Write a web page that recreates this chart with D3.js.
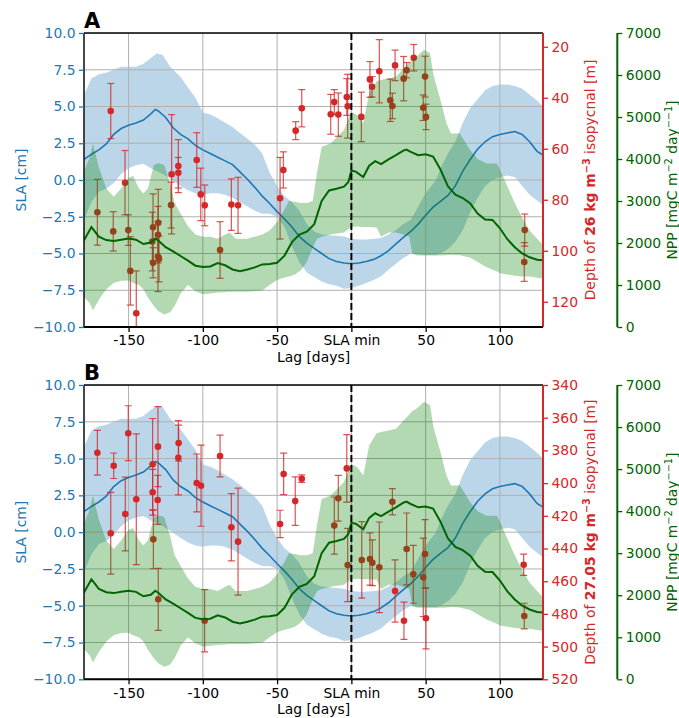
<!DOCTYPE html>
<html><head><meta charset="utf-8">
<script src="https://cdn.jsdelivr.net/npm/d3@7"></script>
<style>body{margin:0;background:#fff} text{font-family:"DejaVu Sans",sans-serif}</style>
</head><body>
<svg id="chart" width="679" height="718"></svg>
<script>
// ---------- data ----------
const lagTicks = [-150, -100, -50, 0, 50, 100];
const lagTickLabels = ["-150", "-100", "-50", "SLA min", "50", "100"];
const slaTicks = [10, 7.5, 5, 2.5, 0, -2.5, -5, -7.5, -10];
const nppTicks = [0, 1000, 2000, 3000, 4000, 5000, 6000, 7000];
const depthTicksA = [20, 40, 60, 80, 100, 120];
const depthTicksB = [340, 360, 380, 400, 420, 440, 460, 480, 500, 520];

// SLA composite mean [lag, cm]
const slaMean = [[-180,1.4],[-175,1.75],[-170,2.05],[-165,2.45],[-160,3.1],[-155,3.5],[-150,3.72],[-145,3.88],[-140,4.08],[-135,4.5],[-132,4.8],[-130,4.7],[-125,4.25],[-120,3.55],[-115,3.1],[-110,2.8],[-105,2.35],[-100,2.05],[-95,1.8],[-90,1.55],[-85,1.3],[-80,1.05],[-75,0.55],[-70,0.05],[-65,-0.5],[-60,-1.1],[-55,-1.6],[-50,-2.15],[-45,-2.65],[-40,-3.2],[-35,-3.85],[-30,-4.3],[-25,-4.65],[-20,-5.0],[-15,-5.35],[-10,-5.55],[-5,-5.65],[0,-5.7],[5,-5.65],[10,-5.55],[15,-5.4],[20,-5.15],[25,-4.8],[30,-4.35],[35,-3.9],[40,-3.5],[45,-3.0],[50,-2.4],[55,-1.85],[60,-1.45],[65,-1.05],[70,-0.4],[75,0.6],[80,1.4],[85,2.1],[90,2.6],[95,2.95],[100,3.1],[105,3.2],[110,3.3],[115,3.1],[120,2.6],[125,1.95],[129,1.7]];
// SLA spread [lag, lower, upper]
const slaBand = [[-180,-2.7,5.8],[-175,-1.5,6.9],[-170,-0.8,7.2],[-165,-0.6,7.3],[-160,-0.2,7.5],[-155,0.4,7.7],[-150,0.8,7.7],[-145,1.0,7.7],[-140,1.1,7.9],[-135,0.8,8.3],[-131,0.6,8.6],[-127,0.4,8.5],[-122,0.1,7.7],[-115,-0.4,7.0],[-110,-0.7,6.3],[-105,-0.9,5.6],[-100,-1.0,4.6],[-95,-0.9,4.45],[-90,-0.9,4.2],[-85,-1.0,3.9],[-80,-1.2,3.6],[-75,-1.5,3.2],[-70,-1.8,2.8],[-65,-2.1,2.4],[-60,-2.3,1.8],[-55,-2.3,0.5],[-50,-2.5,-0.4],[-45,-3.2,-1.1],[-40,-4.5,-1.5],[-35,-5.6,-2.1],[-30,-6.3,-3.0],[-25,-6.6,-3.5],[-20,-6.9,-3.7],[-15,-7.1,-3.75],[-10,-7.2,-3.8],[-5,-7.4,-3.85],[0,-7.35,-4.0],[5,-7.2,-4.05],[10,-7.0,-4.05],[15,-6.8,-4.0],[20,-6.55,-3.95],[25,-6.1,-3.7],[30,-5.7,-3.4],[35,-5.3,-3.0],[40,-5.0,-2.7],[45,-5.05,-1.8],[50,-5.1,-0.9],[57,-5.1,0.0],[60,-5.0,0.8],[65,-4.7,1.8],[70,-4.2,2.6],[75,-3.4,3.9],[80,-2.2,4.9],[85,-1.2,5.5],[90,-0.4,6.1],[95,0.0,6.4],[100,0.2,6.5],[105,0.3,6.5],[110,0.2,6.4],[115,-0.4,6.2],[120,-1.0,5.8],[125,-1.4,5.4],[129,-1.7,5.0]];
// NPP composite mean [lag, mgC m-2 day-1]
const nppMean = [[-180,2066],[-175,2380],[-170,2150],[-165,2070],[-160,2050],[-155,2080],[-150,2106],[-145,2080],[-140,1975],[-135,2010],[-132,2106],[-130,2060],[-125,1900],[-120,1800],[-115,1690],[-110,1580],[-105,1460],[-100,1430],[-95,1440],[-90,1520],[-85,1470],[-80,1370],[-75,1330],[-70,1370],[-65,1420],[-60,1490],[-55,1500],[-50,1530],[-45,1700],[-40,2020],[-35,2200],[-30,2270],[-25,2450],[-20,3000],[-15,3250],[-10,3290],[-5,3340],[-2,3455],[0,3720],[3,3700],[8,3570],[12,3840],[16,3950],[20,3880],[25,3990],[30,4090],[35,4200],[37,4225],[40,4170],[45,4090],[50,4110],[55,4060],[60,3750],[65,3350],[70,3150],[75,3070],[80,2940],[85,2700],[90,2560],[95,2550],[100,2350],[105,2090],[110,1900],[115,1750],[120,1660],[125,1600],[129,1590]];
// NPP spread [lag, lower, upper]
const nppBand = [[-180,715,3700],[-176,560,4050],[-174,400,4370],[-170,650,3800],[-165,900,3300],[-160,1050,3100],[-155,1100,3300],[-150,1110,3550],[-147,1050,3600],[-143,1000,3300],[-140,900,3180],[-137,700,3300],[-133,500,3850],[-130,380,3900],[-126,300,3860],[-122,350,3400],[-119,500,2950],[-115,800,2700],[-110,1000,2400],[-105,850,2200],[-100,780,2150],[-95,800,2150],[-90,820,2100],[-85,830,2200],[-82,840,2250],[-78,840,2100],[-70,840,2100],[-60,870,2200],[-55,1000,2300],[-50,1120,2500],[-45,1180,2800],[-42,1200,3000],[-38,1250,2980],[-34,1350,2950],[-30,1550,2950],[-26,1900,3000],[-23,2100,3700],[-20,2150,4290],[-14,2200,4370],[-5,2250,4690],[0,2380,5120],[4,2390,5045],[8,2380,4850],[12,2380,5560],[17,2370,5850],[20,2150,5880],[25,2250,5920],[30,2250,5960],[35,2200,6150],[39,2150,6300],[41,1750,6380],[44,1700,6440],[49,1700,6600],[53,1700,6520],[55,1700,6040],[60,1700,5400],[64,1710,4850],[67,1720,4610],[73,1710,4610],[80,1650,4210],[85,1550,4000],[91,1420,3890],[98,1320,3890],[100,1280,3750],[105,1250,3350],[110,1220,2950],[115,1200,2600],[120,1200,2300],[125,1170,2100],[129,1150,1950]];
// isopycnal depth observations [lag, depth, error]
const depthA = [[-171.0,84.9,12.9],[-162.0,45.2,10.8],[-160.3,92.4,7.7],[-152.4,73.3,12.6],[-150.2,91.9,6.0],[-148.8,107.9,13.4],[-144.8,124.5,16.6],[-133.5,90.8,13.1],[-134.0,96.4,11.5],[-133.5,104.7,5.9],[-130.0,89.0,13.1],[-130.2,93.7,11.1],[-130.2,102.3,13.7],[-129.5,103.2,9.0],[-121.0,70.0,23.4],[-121.4,82.1,9.0],[-116.5,66.8,10.4],[-116.5,69.4,6.0],[-104.1,64.4,10.7],[-101.4,77.9,10.3],[-98.7,82.2,8.0],[-88.4,99.7,11.1],[-80.8,81.9,10.1],[-76.3,82.2,11.0],[-48.0,79.4,16.0],[-45.8,68.3,7.1],[-37.5,52.9,3.5],[-33.4,44.1,7.3],[-13.9,46.5,7.8],[-11.5,41.7,4.9],[-8.8,46.6,8.5],[-3.1,39.7,7.2],[-2.5,43.3,12.5],[6.7,47.5,9.7],[12.5,32.8,7.0],[13.9,35.7,4.0],[18.8,29.6,12.4],[26.2,41.0,8.3],[27.6,43.2,5.0],[29.4,27.3,6.0],[35.2,32.5,8.7],[37.2,29.2,3.0],[42.0,24.3,5.2],[49.6,31.7,8.0],[48.4,43.9,5.0],[50.2,47.5,5.0],[116.7,91.9,6.3],[116.4,104.4,7.6]];
const depthB = [[-171.0,381.4,13.7],[-160.0,389.4,7.8],[-162.0,430.7,25.0],[-152.2,418.9,22.6],[-150.2,369.5,16.8],[-144.8,409.9,40.0],[-133.8,388.5,28.0],[-133.8,405.6,14.0],[-133.3,434.4,18.0],[-130.2,377.7,24.5],[-130.4,410.3,15.0],[-130.0,471.1,19.0],[-116.5,384.5,22.7],[-116.3,375.5,11.0],[-104.1,399.9,17.7],[-101.2,401.6,24.8],[-98.8,484.2,19.0],[-88.4,383.4,12.8],[-80.8,427.0,20.6],[-76.3,435.8,32.7],[-48.0,425.0,8.4],[-45.6,394.4,12.7],[-37.8,411.0,14.8],[-33.4,397.3,2.3],[-11.5,426.0,17.5],[-8.8,409.3,14.0],[-3.1,391.0,20.6],[-2.5,450.1,22.4],[7.0,447.0,23.4],[12.5,446.4,16.0],[14.1,448.7,14.0],[18.8,451.5,27.7],[27.6,411.4,8.0],[29.4,466.0,19.0],[35.4,484.2,11.4],[37.2,440.3,22.0],[41.7,455.8,17.7],[48.4,457.6,24.0],[49.6,443.4,21.0],[50.2,482.7,18.7],[116.0,449.9,6.5],[116.4,481.3,7.8]];

// ---------- drawing ----------
const BLUE = "#1f77b4", RED = "#d62728", GREEN = "#006400";
const FS = "13.9px";
const svg = d3.select("#chart");
const L = 84, R = 543, NPPX = 617.3;
const x = d3.scaleLinear().domain([-180, 129]).range([L, R]);

const panels = [
  {top: 33, bottom: 327, letter: "A", dDom: [14.6, 129.9], dTicks: depthTicksA, pts: depthA, bold: "26 kg m"},
  {top: 385, bottom: 679.3, letter: "B", dDom: [340, 520], dTicks: depthTicksB, pts: depthB, bold: "27.05 kg m"}
];

function styleAxis(g, color) {
  g.selectAll("text").style("font-size", FS).style("font-family", "DejaVu Sans").attr("fill", color);
  g.selectAll("line").attr("stroke", color).attr("stroke-width", 1.3);
  g.select(".domain").remove();
}

panels.forEach((p, i) => {
  const ySla = d3.scaleLinear().domain([-10, 10]).range([p.bottom, p.top]);
  const yDep = d3.scaleLinear().domain(p.dDom).range([p.top, p.bottom]);
  const yNpp = d3.scaleLinear().domain([0, 7000]).range([p.bottom, p.top]);
  const H = p.bottom - p.top;
  const cid = "clip" + i;
  svg.append("clipPath").attr("id", cid).append("rect").attr("x", L).attr("y", p.top).attr("width", R - L).attr("height", H);
  const g = svg.append("g").attr("clip-path", `url(#${cid})`);

  // SLA band
  g.append("path").datum(slaBand)
    .attr("d", d3.area().x(d => x(d[0])).y0(d => ySla(d[1])).y1(d => ySla(d[2])))
    .attr("fill", BLUE).attr("fill-opacity", 0.3);
  // grid
  g.selectAll(".gx").data(lagTicks).enter().append("line")
    .attr("x1", d => x(d)).attr("x2", d => x(d)).attr("y1", p.top).attr("y2", p.bottom)
    .attr("stroke", "#b0b0b0").attr("stroke-width", 1);
  g.selectAll(".gy").data(slaTicks).enter().append("line")
    .attr("x1", L).attr("x2", R).attr("y1", d => ySla(d)).attr("y2", d => ySla(d))
    .attr("stroke", "#b0b0b0").attr("stroke-width", 1);
  // SLA mean
  g.append("path").datum(slaMean)
    .attr("d", d3.line().x(d => x(d[0])).y(d => ySla(d[1])))
    .attr("fill", "none").attr("stroke", BLUE).attr("stroke-width", 1.6);

  // depth observations
  const eb = g.append("g");
  p.pts.forEach(d => {
    const cx = x(d[0]), y0 = yDep(d[1] - d[2]), y1 = yDep(d[1] + d[2]);
    eb.append("line").attr("x1", cx).attr("x2", cx).attr("y1", y0).attr("y2", y1)
      .attr("stroke", RED).attr("stroke-opacity", 0.8).attr("stroke-width", 1.2);
    [y0, y1].forEach(yy => eb.append("line").attr("x1", cx - 3.5).attr("x2", cx + 3.5).attr("y1", yy).attr("y2", yy)
      .attr("stroke", RED).attr("stroke-opacity", 0.8).attr("stroke-width", 1.2));
  });
  g.selectAll(".pt").data(p.pts).enter().append("circle")
    .attr("cx", d => x(d[0])).attr("cy", d => yDep(d[1])).attr("r", 3.3).attr("fill", RED);

  // NPP band and mean
  g.append("path").datum(nppBand)
    .attr("d", d3.area().x(d => x(d[0])).y0(d => yNpp(d[1])).y1(d => yNpp(d[2])))
    .attr("fill", "green").attr("fill-opacity", 0.3);
  g.append("path").datum(nppMean)
    .attr("d", d3.line().x(d => x(d[0])).y(d => yNpp(d[1])))
    .attr("fill", "none").attr("stroke", GREEN).attr("stroke-width", 2);

  // SLA-min marker
  svg.append("line").attr("x1", x(0)).attr("x2", x(0)).attr("y1", p.top).attr("y2", p.bottom)
    .attr("stroke", "#000").attr("stroke-width", 2).attr("stroke-dasharray", "7,3");

  // spines
  svg.append("line").attr("x1", L).attr("x2", R).attr("y1", p.top).attr("y2", p.top).attr("stroke", "#000").attr("stroke-width", 1.4);
  svg.append("line").attr("x1", L).attr("x2", R).attr("y1", p.bottom).attr("y2", p.bottom).attr("stroke", "#000").attr("stroke-width", 2);
  svg.append("line").attr("x1", L).attr("x2", L).attr("y1", p.top).attr("y2", p.bottom).attr("stroke", "#1a1a1a").attr("stroke-width", 1.6);
  svg.append("line").attr("x1", R).attr("x2", R).attr("y1", p.top).attr("y2", p.bottom).attr("stroke", RED).attr("stroke-width", 2);
  svg.append("line").attr("x1", NPPX).attr("x2", NPPX).attr("y1", p.top).attr("y2", p.bottom).attr("stroke", GREEN).attr("stroke-width", 2);

  // axes
  const ax = svg.append("g").attr("transform", `translate(0,${p.bottom})`)
    .call(d3.axisBottom(x).tickValues(lagTicks).tickFormat((d, k) => lagTickLabels[k]).tickSize(5).tickPadding(3.5));
  styleAxis(ax, "#000");
  const ay = svg.append("g").attr("transform", `translate(${L},0)`)
    .call(d3.axisLeft(ySla).tickValues(slaTicks).tickFormat(d3.format(".1f")).tickSize(5).tickPadding(3.5));
  styleAxis(ay, BLUE);
  const ad = svg.append("g").attr("transform", `translate(${R},0)`)
    .call(d3.axisRight(yDep).tickValues(p.dTicks).tickFormat(d3.format("d")).tickSize(5).tickPadding(3.5));
  styleAxis(ad, RED);
  const an = svg.append("g").attr("transform", `translate(${NPPX},0)`)
    .call(d3.axisRight(yNpp).tickValues(nppTicks).tickFormat(d3.format("d")).tickSize(5).tickPadding(3.5));
  styleAxis(an, GREEN);

  const cy = (p.top + p.bottom) / 2;
  // axis labels
  svg.append("text").attr("x", (L + R) / 2).attr("y", p.bottom + 34.5).attr("text-anchor", "middle")
    .style("font-size", FS).attr("fill", "#000").text("Lag [days]");
  svg.append("text").attr("transform", `translate(26,${cy}) rotate(-90)`).attr("text-anchor", "middle")
    .style("font-size", FS).attr("fill", BLUE).text("SLA [cm]");

  const td = svg.append("text").attr("transform", `translate(595,${cy}) rotate(-90)`).attr("text-anchor", "middle")
    .style("font-size", FS).attr("fill", RED);
  td.append("tspan").text("Depth of ");
  td.append("tspan").attr("font-weight", "bold").text(p.bold);
  td.append("tspan").attr("font-weight", "bold").attr("dy", -5.5).style("font-size", "9.7px").text("\u22123");
  td.append("tspan").attr("dy", 5.5).text(" isopycnal [m]");

  const tn = svg.append("text").attr("transform", `translate(677,${cy}) rotate(-90)`).attr("text-anchor", "middle")
    .style("font-size", FS).attr("fill", GREEN);
  tn.append("tspan").text("NPP [mgC m");
  tn.append("tspan").attr("dy", -5.5).style("font-size", "9.7px").text("\u22122");
  tn.append("tspan").attr("dy", 5.5).text(" day");
  tn.append("tspan").attr("dy", -5.5).style("font-size", "9.7px").text("\u2212\u22121");
  tn.append("tspan").attr("dy", 5.5).text("]");

  // panel letter
  svg.append("text").attr("x", L).attr("y", p.top - 5).style("font-size", "21px").attr("font-weight", "bold")
    .attr("fill", "#000").text(p.letter);
});
</script>
</body></html>
